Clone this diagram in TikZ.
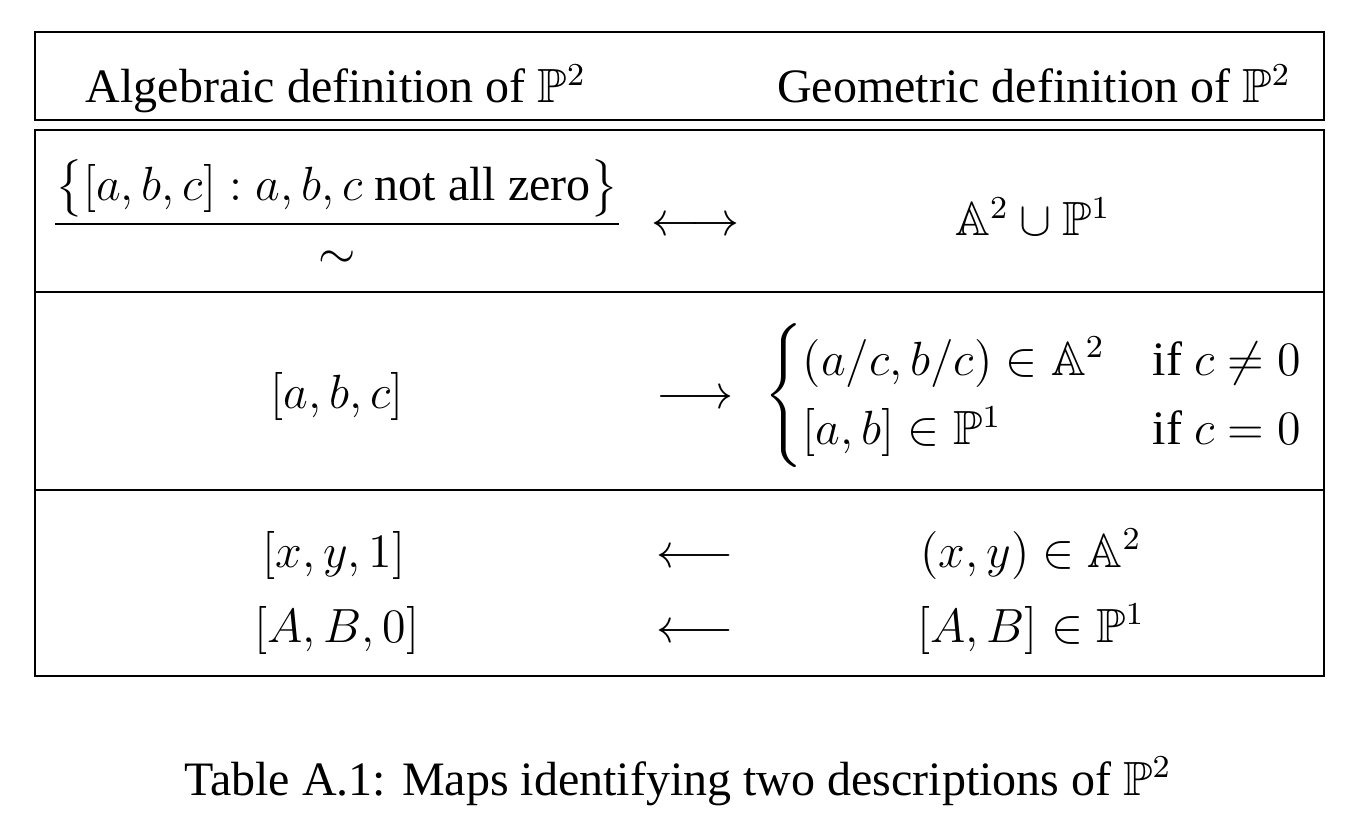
\documentclass[tikz,border=0pt,12pt]{standalone}
\usepackage{amsmath}
\usepackage{amssymb}
\usepackage[no-math]{fontspec}
\setmainfont{Liberation Serif}

\begin{document}
\begin{tikzpicture}[x=0.25pt,y=0.25pt,yscale=-1,xscale=1,
  cell/.style={anchor=base,inner sep=0pt},
  rule/.style={line width=0.55pt}]
\useasboundingbox (0,0) rectangle (1370,834);

%Shape: Rectangle [header]
\draw [rule] (35,32) -- (1324,32) -- (1324,120) -- (35,120) -- cycle ;
%Shape: Rectangle [body]
\draw [rule] (35,130) -- (1324,130) -- (1324,676) -- (35,676) -- cycle ;
%Straight Lines [row separators]
\draw [rule] (35,292) -- (1324,292) ;
\draw [rule] (35,490) -- (1324,490) ;

% Text Node
\node (algHead) [cell] at (336,103) {Algebraic definition of $\mathbb{P}^2$};
% Text Node
\node (geoHead) [cell] at (1034,103) {Geometric definition of $\mathbb{P}^2$};

% Text Node
\node (quot) [cell] at (337,236) {$\dfrac{\bigl\{[a,b,c] : a,b,c \text{ not all zero}\bigr\}}{\sim}$};
% Text Node
\node (biArr) [cell] at (695,236) {$\longleftrightarrow$};
% Text Node
\node (union) [cell] at (1033,236) {$\mathbb{A}^2\cup\mathbb{P}^1$};

% Text Node
\node (abc) [cell] at (337,408) {$[a,b,c]$};
% Text Node
\node (fwdArr) [cell] at (695,408) {$\longrightarrow$};
% Text Node
\node (cases) [cell] at (1035,408) {$\begin{cases}
  (a/c,b/c)\in\mathbb{A}^2 & \text{if } c\neq 0\\
  [a,b]\in\mathbb{P}^1 & \text{if } c=0
\end{cases}$};

% Text Node
\node (xyOne) [cell] at (334,567) {$[x,y,1]$};
% Text Node
\node (backArrA) [cell] at (695,567) {$\longleftarrow$};
% Text Node
\node (affPt) [cell] at (1031,567) {$(x,y)\in\mathbb{A}^2$};
% Text Node
\node (abZero) [cell] at (337,642) {$[A,B,0]$};
% Text Node
\node (backArrB) [cell] at (695,642) {$\longleftarrow$};
% Text Node
\node (projPt) [cell] at (1031,642) {$[A,B]\in\mathbb{P}^1$};

% Text Node
\node (caption) [cell] at (678,795) {Table A.1: Maps identifying two descriptions of $\mathbb{P}^2$};

\end{tikzpicture}
\end{document}
